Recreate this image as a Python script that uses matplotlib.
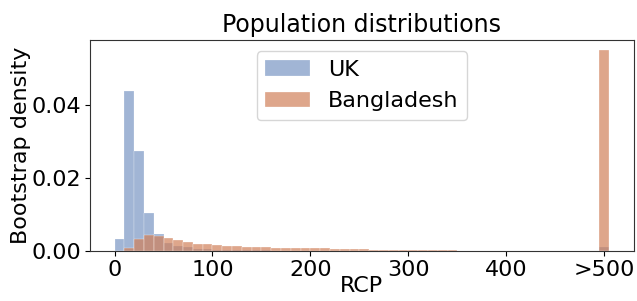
import numpy as np
import matplotlib
matplotlib.use("Agg")
import matplotlib.pyplot as plt

# bin left edges (width 10); values above 500 collected in one extra bin at 500
bin_edges = list(range(0, 500, 10))
overflow_pos = 500
bin_width = 10

uk_density = [
    0.0034, 0.0439, 0.0274, 0.0105, 0.0047, 0.0023, 0.0014, 0.0010, 0.0006, 0.0005,
    0.0004, 0.0003, 0.0003, 0.0002, 0.0002, 0.0002, 0.0001, 0.0001, 0.0001, 0.0001,
    0.0001, 0.0001, 0.0001, 0.0000, 0.0000, 0.0000, 0.0000, 0.0000, 0.0000, 0.0000,
    0.0000, 0.0000, 0.0000, 0.0000, 0.0000, 0.0000, 0.0000, 0.0000, 0.0000, 0.0000,
    0.0000, 0.0000, 0.0000, 0.0000, 0.0000, 0.0000, 0.0000, 0.0000, 0.0000, 0.0000,
]
uk_overflow = 0.0011

bd_density = [
    0.0000, 0.0008, 0.0034, 0.0045, 0.0042, 0.0037, 0.0030, 0.0026, 0.0019, 0.0018,
    0.0017, 0.0014, 0.0013, 0.0012, 0.0012, 0.0010, 0.0009, 0.0008, 0.0008, 0.0007,
    0.0007, 0.0007, 0.0006, 0.0006, 0.0005, 0.0005, 0.0004, 0.0004, 0.0004, 0.0003,
    0.0003, 0.0002, 0.0002, 0.0002, 0.0002, 0.0001, 0.0001, 0.0001, 0.0001, 0.0001,
    0.0001, 0.0001, 0.0001, 0.0001, 0.0000, 0.0000, 0.0000, 0.0000, 0.0000, 0.0000,
]
bd_overflow = 0.0552

xticks = [0, 100, 200, 300, 400, 500]
xticklabels = ["0", "100", "200", "300", "400", ">500"]

plt.rcParams["font.family"] = ["DejaVu Sans"]
plt.rcParams["font.size"] = 16

fig = plt.figure(figsize=(6.37, 3.01), dpi=100)
ax = fig.add_axes([0.141, 0.166, 0.854, 0.701])

uk_col = "#4C72B0"
bd_col = "#D0805A"

ax.bar(bin_edges, uk_density, width=bin_width, align="edge",
       color=uk_col, alpha=0.52, edgecolor="white", linewidth=0.3, label="UK")
ax.bar([overflow_pos], [uk_overflow], width=bin_width, align="center",
       color=uk_col, alpha=0.52, edgecolor="white", linewidth=0.3)
ax.bar(bin_edges, bd_density, width=bin_width, align="edge",
       color=bd_col, alpha=0.7, edgecolor="white", linewidth=0.3, label="Bangladesh")
ax.bar([overflow_pos], [bd_overflow], width=bin_width, align="center",
       color=bd_col, alpha=0.7, edgecolor="white", linewidth=0.3)

ax.set_xticks(xticks)
ax.set_xticklabels(xticklabels)
ax.set_yticks([0.0, 0.02, 0.04])
ax.set_yticklabels(["0.00", "0.02", "0.04"])
ax.tick_params(labelsize=16, pad=3)
for sp in ax.spines.values():
    sp.set_color("#333333")

ax.set_xlabel("RCP", fontsize=16, labelpad=-3)
ax.set_ylabel("Bootstrap density", fontsize=16, labelpad=0)
ax.set_title("Population distributions", fontsize=17, pad=6)
ax.legend(loc="upper center", fontsize=16)

fig.savefig("out.png", dpi=100)
